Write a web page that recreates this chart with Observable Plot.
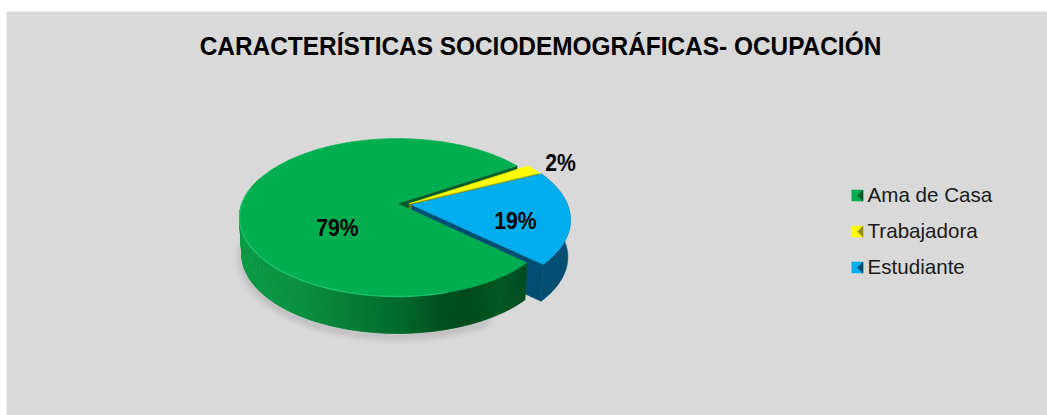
<!DOCTYPE html>
<html><head><meta charset="utf-8">
<style>html,body{margin:0;padding:0;background:#fff;overflow:hidden}svg{display:block}</style>
<script src="https://cdn.jsdelivr.net/npm/d3@7"></script>
<script src="https://cdn.jsdelivr.net/npm/@observablehq/plot@0.6"></script>
</head><body><div id="chart"></div>
<script>
const titleText = "CARACTERÍSTICAS SOCIODEMOGRÁFICAS- OCUPACIÓN";
const categories = ["Ama de Casa", "Trabajadora", "Estudiante"];
const shares = [79, 2, 19];
const shiftU = [0, 0.078, 0.09];
const shiftV = [0, 0, 0.015];
const topColors = ["#00ad4f", "#ffff00", "#00adef"];
const sideColors = ["#005c27", "#8f8f00", "#004f73"];
const labelX = [337, 560, 515];
const labelY = [228, 163, 221];
const legendY = [195, 231, 267];

// pie geometry: a circle seen in perspective, turned into frame units
const cx = 397, cy = 203, R = 155.5, C = 76.5, K = 0.177, depth = 37;
const rad = Math.PI / 180, firstAngle = 43;
const proj = (u, v, low = false) => {
  const d = 1 - K * v, x = R * u / d, y = C * v / d;
  return low ? {x: cx + x * 0.985, y: cy + y + depth} : {x: cx + x, y: cy + y};
};
let acc = firstAngle;
const slices = shares.map((s, i) => {
  const a0 = acc, a1 = acc + s * 3.6; acc = a1;
  return {i, a0, a1, ox: shiftU[i], oy: shiftV[i]};
});
const rim = (s, a, low) => proj(s.ox + Math.cos(a * rad), s.oy + Math.sin(a * rad), low);
const apex = (s, low) => proj(s.ox, s.oy, low);
const arc = (s, low, from = s.a0, to = s.a1) => d3.range(from, to, 1).concat(to).map(a => rim(s, a, low));
const topFace = s => [apex(s), ...arc(s)];
const cutFace = (s, a) => [apex(s), rim(s, a), rim(s, a, true), apex(s, true)];
const outerWall = (s, from = s.a0, to = s.a1) => [...arc(s, false, from, to), ...arc(s, true, from, to).reverse()];

const [green, yellow, blue] = slices;
const greenShade = d3.scaleLinear()
  .domain([238, 300, 340, 400, 440, 470, 500, 525])
  .range(["#0a9a45", "#0a9040", "#078238", "#006a2c", "#00521f", "#004a1c", "#005a24", "#004d20"])
  .clamp(true);
const strips = d3.range(green.a0, 200, 1).flatMap(a => {
  const pts = outerWall(green, a, a + 1.2);
  const fill = greenShade(pts[0].x);
  return pts.map(p => ({...p, g: a, fill}));
});
const poly = (pts, fill, opts = {}) => Plot.line(pts, {x: "x", y: "y", curve: "linear-closed", fill, stroke: fill, strokeWidth: 0.5, ...opts});

const legendRows = categories.map((name, i) => ({name, i, y: legendY[i]}));
const box = 5.5, lx = 857;
const markerMarks = legendRows.flatMap(r => [
  poly([{x: lx - box, y: r.y - box}, {x: lx + box, y: r.y - box}, {x: lx + box, y: r.y + box}, {x: lx - box, y: r.y + box}], topColors[r.i]),
  poly([{x: lx, y: r.y}, {x: lx + box, y: r.y - box}, {x: lx + box, y: r.y + box}], sideColors[r.i])
]);

const sliceLabels = shares.map((s, i) => ({t: s + "%", x: labelX[i], y: labelY[i]}));

const chart = Plot.plot({
  width: 1047, height: 415,
  marginLeft: 6, marginTop: 11, marginRight: 0, marginBottom: 0,
  x: {domain: [6, 1047], axis: null},
  y: {domain: [415, 11], axis: null},
  style: {background: "transparent"},
  marks: [
    Plot.frame({fill: "#d9d9d9", stroke: null}),
    Plot.line([...arc(green, true, 60, 200)], {x: "x", y: d => d.y + 3, stroke: "#000", strokeOpacity: 0.18, strokeWidth: 5, imageFilter: "blur(3px)"}),
    poly(cutFace(green, green.a1), sideColors[0]),
    poly(cutFace(yellow, yellow.a1), sideColors[1]),
    poly(outerWall(blue, blue.a0, blue.a1), sideColors[2]),
    poly(cutFace(blue, blue.a1), sideColors[2]),
    Plot.line(strips, {x: "x", y: "y", z: "g", curve: "linear-closed", fill: "fill", stroke: "fill", strokeWidth: 0.6}),
    poly(topFace(green), topColors[0], {imageFilter: "blur(0.4px)"}),
    Plot.line(arc(green, false, 75, 190), {x: "x", y: "y", stroke: "#22c873", strokeWidth: 1.4, strokeOpacity: 0.8}),
    poly(topFace(yellow), topColors[1]),
    poly(topFace(blue), topColors[2]),
    Plot.text([titleText], {x: 540, y: 46, text: d => d, fontFamily: "Liberation Sans", fontWeight: "bold", fontSize: 25.5, fill: "#000", className: "chart-title"}),
    Plot.text(sliceLabels, {x: "x", y: "y", text: "t", fontFamily: "Liberation Sans", fontWeight: "bold", fontSize: 23, fill: "#000", className: "slice-label"}),
    ...markerMarks,
    Plot.text(legendRows, {x: 867, y: "y", text: "name", textAnchor: "start", fontFamily: "Liberation Sans", fontSize: 20.6, fill: "#1a1a1a"})
  ],
  color: {type: "identity"}
});
document.getElementById("chart").append(chart);
// the reference's title and percent labels are condensed
const condense = (sel, factor) => d3.select(chart).selectAll(sel).each(function () {
  this.setAttribute("textLength", this.getComputedTextLength() * factor);
  this.setAttribute("lengthAdjust", "spacingAndGlyphs");
});
condense(".slice-label text", 0.92);
condense(".chart-title text", 0.957);
</script></body></html>
